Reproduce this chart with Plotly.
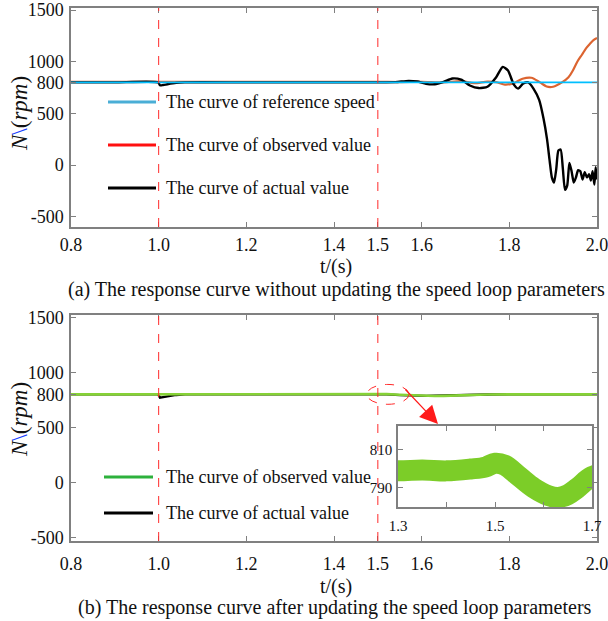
import plotly.graph_objects as go

# ---------------- data ----------------
t_ref = [0.8, 2.0]
v_ref = [800, 800]

# (a) observed value (orange)
t_obs_a = [0.8, 0.9, 1.0, 1.1, 1.2, 1.3, 1.4, 1.5, 1.55, 1.6, 1.65, 1.69, 1.72, 1.75, 1.77,
           1.79, 1.81, 1.83, 1.85, 1.87, 1.885, 1.9, 1.92, 1.935, 1.945, 1.955, 1.966,
           1.975, 1.984, 1.992, 2.0]
v_obs_a = [805, 804, 805, 804, 805, 804, 805, 805, 803, 806, 800, 812, 792, 808, 802,
           778, 792, 835, 845, 800, 760, 758, 800, 850, 915, 1000, 1070, 1130, 1175, 1210, 1230]

# (a) actual value (black)
t_act_a = [0.8, 0.9, 0.999, 1.003, 1.01, 1.02, 1.04, 1.06, 1.2, 1.4, 1.5, 1.54, 1.57, 1.59,
           1.61, 1.63, 1.65, 1.67, 1.69, 1.71, 1.73, 1.75, 1.77, 1.785, 1.797, 1.81, 1.82,
           1.832, 1.843, 1.855, 1.868, 1.878, 1.886, 1.892, 1.897, 1.902, 1.907, 1.912,
           1.917, 1.922, 1.927, 1.932, 1.937, 1.942, 1.947, 1.952, 1.957, 1.962, 1.967,
           1.972, 1.977, 1.982, 1.986, 1.99, 1.994, 1.997, 2.0]
v_act_a = [800, 800, 800, 772, 774, 782, 795, 800, 800, 800, 800, 802, 815, 808,
           786, 782, 805, 838, 826, 770, 745, 758, 850, 950, 915, 780, 740,
           790, 800, 740, 630, 450, 250, 40, -120, -170, -40, 140, 150, -30, -240,
           -200, 20, -60, -170, -120, -50, -60, -140, -70, -120, -90, -150, -60, -190,
           -20, -140]

# (b) observed value (green) and actual value (black)
t_b = [0.8, 0.9, 0.999, 1.003, 1.01, 1.02, 1.04, 1.06, 1.2, 1.3, 1.35, 1.4, 1.45, 1.48,
       1.5, 1.52, 1.55, 1.58, 1.61, 1.63, 1.65, 1.67, 1.7, 1.75, 1.8, 1.9, 2.0]
v_obs_b = [800, 800, 800, 800, 800, 800, 800, 800, 800, 799, 799.5, 799, 800, 801,
           803, 802, 796, 790, 786, 785, 786.5, 790, 796, 799, 800, 800, 800]
v_act_b = [800, 800, 800, 770, 773, 782, 795, 800, 800, 799, 799.5, 799, 800, 800.5,
           802, 800, 793, 788, 786.5, 787, 789.5, 792, 796, 799, 800, 800, 800]

event_times = [1.0, 1.5]
x_ticks = [0.8, 1.0, 1.2, 1.4, 1.5, 1.6, 1.8, 2.0]
y_ticks = [-500, 0, 500, 800, 1000, 1500]
y_tick_text = ["-500", "0", "500", "800", "1000", "1500"]
inset_x_ticks = [1.3, 1.4, 1.5, 1.6, 1.7]
inset_x_text = ["1.3", "", "1.5", "", "1.7"]
inset_y_ticks = [790, 810]

legend_a = [("The curve of reference speed", "#4aaed6"),
            ("The curve of observed value", "#ff1010"),
            ("The curve of actual value", "#000000")]
legend_b = [("The curve of observed value", "#2db13c"),
            ("The curve of actual value", "#000000")]

# ---------------- figure ----------------
W, H = 608, 621
FONT = "'Liberation Serif', 'Times New Roman', Times, serif"

def px(x):
    return x / W

def py(y):
    return 1 - y / H

fig = go.Figure()

fig.add_trace(go.Scatter(x=t_obs_a, y=v_obs_a, mode="lines", line=dict(color="#dc6430", width=2.2, shape="spline", smoothing=0.8),
                         xaxis="x", yaxis="y", showlegend=False))
fig.add_trace(go.Scatter(x=t_act_a, y=v_act_a, mode="lines", line=dict(color="#000000", width=2.4, shape="spline", smoothing=0.6),
                         xaxis="x", yaxis="y", showlegend=False))
fig.add_trace(go.Scatter(x=t_ref, y=v_ref, mode="lines", line=dict(color="#00bfff", width=1.8),
                         xaxis="x", yaxis="y", showlegend=False))

fig.add_trace(go.Scatter(x=t_b, y=v_act_b, mode="lines", line=dict(color="#000000", width=2.4),
                         xaxis="x2", yaxis="y2", showlegend=False))
fig.add_trace(go.Scatter(x=t_b, y=v_obs_b, mode="lines", line=dict(color="#86d236", width=2.6),
                         xaxis="x2", yaxis="y2", showlegend=False))

fig.add_trace(go.Scatter(x=t_b, y=v_act_b, mode="lines", line=dict(color="#000000", width=3, shape="spline"),
                         xaxis="x3", yaxis="y3", showlegend=False))
fig.add_trace(go.Scatter(x=t_b, y=v_obs_b, mode="lines", line=dict(color="#7ccd28", width=21, shape="spline"),
                         xaxis="x3", yaxis="y3", showlegend=False))

def axis_style(size):
    return dict(showline=True, linecolor="#808080", linewidth=1.5, mirror="ticks",
                ticks="inside", ticklen=5, tickcolor="#808080", showgrid=False, zeroline=False,
                ticklabeloverflow="allow",
                tickfont=dict(family=FONT, size=size, color="#111"))

main_ax = axis_style(18)
inset_ax = axis_style(15)

dom_x = [px(71), px(597)]
fig.update_layout(
    width=W, height=H,
    margin=dict(l=0, r=0, t=0, b=0, autoexpand=False),
    paper_bgcolor="white", plot_bgcolor="white",
    font=dict(family=FONT),
    xaxis=dict(domain=dom_x, range=[0.8, 2.0], tickvals=x_ticks, tickformat=".1f", anchor="y",
               ticklabelstandoff=1, **main_ax),
    yaxis=dict(domain=[py(227), py(8)], range=[-600, 1520], tickvals=y_ticks, ticktext=y_tick_text,
               anchor="x", ticklabelstandoff=2, **main_ax),
    xaxis2=dict(domain=dom_x, range=[0.8, 2.0], tickvals=x_ticks, tickformat=".1f", anchor="y2",
                ticklabelstandoff=6, **main_ax),
    yaxis2=dict(domain=[py(541), py(315)], range=[-530, 1520], tickvals=y_ticks, ticktext=y_tick_text,
                anchor="x2", ticklabelstandoff=2, **main_ax),
    xaxis3=dict(domain=[px(398), px(592)], range=[1.3, 1.7], tickvals=inset_x_ticks, ticktext=inset_x_text,
                anchor="y3", ticklabelstandoff=4, **inset_ax),
    yaxis3=dict(domain=[py(507), py(426)], range=[780, 822.6], tickvals=inset_y_ticks, anchor="x3",
                ticklabelstandoff=1, **inset_ax),
)

# dashed event lines
for xa, ya in [("x", "y"), ("x2", "y2")]:
    for te in event_times:
        fig.add_shape(type="line", xref=xa, yref=f"{ya} domain", x0=te, x1=te, y0=0, y1=1,
                      line=dict(color="#ff2a2a", width=1, dash="dash"))

# ellipse marking the zoomed region
fig.add_shape(type="circle", xref="x2", yref="y2", x0=1.475, x1=1.571, y0=710, y1=890,
              line=dict(color="#ff2a2a", width=1, dash="dash"))

# arrow to inset
fig.add_annotation(xref="paper", yref="paper", x=px(438), y=py(424), ax=-34, ay=-36,
                   showarrow=True, arrowhead=2, arrowsize=3, arrowwidth=1.2, arrowcolor="#ff1a1a", text="")

# legends
def draw_legend(items, x0, x1, ys, tx):
    for (label, color), y in zip(items, ys):
        fig.add_shape(type="line", xref="paper", yref="paper", x0=px(x0), x1=px(x1), y0=py(y), y1=py(y),
                      line=dict(color=color, width=3))
        fig.add_annotation(xref="paper", yref="paper", x=px(tx), y=py(y), xanchor="left", yanchor="middle",
                           text=label, showarrow=False, font=dict(family=FONT, size=18, color="#111"))

draw_legend(legend_a, 108, 156, [102, 145, 188], 164)
draw_legend(legend_b, 104, 153, [477, 513], 164)

# axis titles
ylab = "<i>N</i><span style='color:#2040ff'>\\</span>(<i>rpm</i>)"
for yc in [114, 420]:
    fig.add_annotation(xref="paper", yref="paper", x=px(19), y=py(yc), text=ylab, textangle=-90,
                       xanchor="center", yanchor="middle",
                       showarrow=False, font=dict(family=FONT, size=23, color="#111"))
for yc in [266, 586]:
    fig.add_annotation(xref="paper", yref="paper", x=px(336), y=py(yc), text="t/(s)",
                       xanchor="center", yanchor="middle",
                       showarrow=False, font=dict(family=FONT, size=20, color="#111"))

fig.add_annotation(xref="paper", yref="paper", x=px(336), y=py(289), xanchor="center", yanchor="middle",
                   text="(a) The response curve without updating the speed loop parameters",
                   showarrow=False, font=dict(family=FONT, size=20, color="#111"))
fig.add_annotation(xref="paper", yref="paper", x=px(335), y=py(607), xanchor="center", yanchor="middle",
                   text="(b) The response curve after updating the speed loop parameters",
                   showarrow=False, font=dict(family=FONT, size=20, color="#111"))

fig.write_html("out.html")
